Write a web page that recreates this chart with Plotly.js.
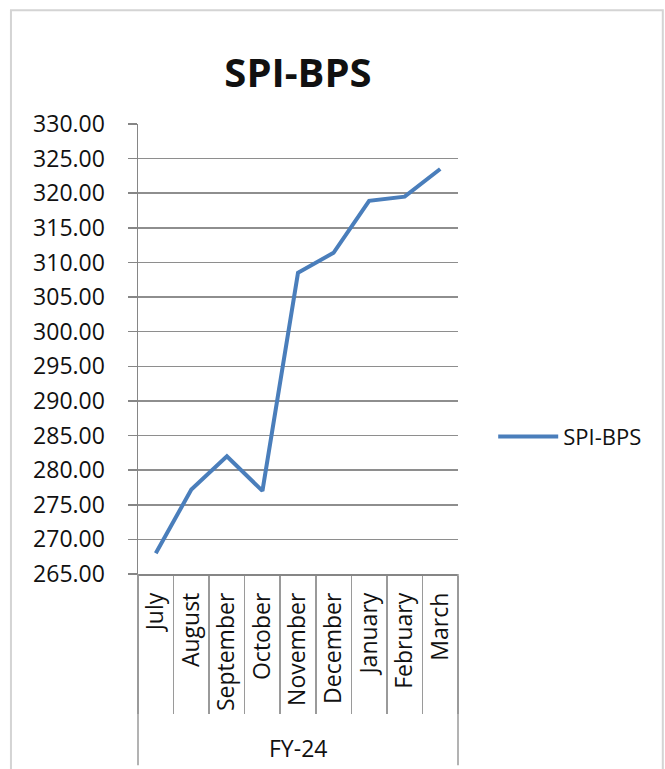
<!DOCTYPE html>
<html>
<head>
<meta charset="utf-8">
<script src="https://cdn.plot.ly/plotly-3.0.1.min.js"></script>
<style>html,body{margin:0;padding:0;background:#fff;}#chart{width:665px;height:769px;}</style>
</head>
<body>
<div id="chart"></div>
<script>
const months = ["July","August","September","October","November","December","January","February","March"];
const spiBps = [268.0, 277.2, 282.0, 277.0, 308.5, 311.4, 318.9, 319.5, 323.5];
const seriesName = "SPI-BPS";
const groupLabel = "FY-24";
const chartTitle = "SPI-BPS";

const font = "'Open Sans', 'Liberation Sans', sans-serif";
const data = [{
  type: "scatter", mode: "lines", x: months, y: spiBps, name: seriesName,
  line: {color: "#4a7ebb", width: 4}
}];
const layout = {
  width: 665, height: 769,
  margin: {l: 138, r: 207, t: 124, b: 195},
  paper_bgcolor: "#fff", plot_bgcolor: "#fff",
  title: {text: "<b>" + chartTitle + "</b>", x: 0.5, xref: "paper", xanchor: "center", y: 0.905, yanchor: "middle",
          font: {family: font, size: 40, color: "#111"}},
  showlegend: true,
  legend: {x: 1.11, xanchor: "left", y: 0.305, yanchor: "middle", itemwidth: 60,
           font: {family: font, size: 22, color: "#111"}, bgcolor: "rgba(0,0,0,0)"},
  xaxis: {
    type: "category", range: [-0.5, months.length - 0.5], showgrid: false, showline: true, linecolor: "#868686", linewidth: 1.5,
    ticks: "outside", tickson: "boundaries", ticklen: 138, tickcolor: "#9a9a9a", tickwidth: 1.5,
    tickangle: -90, ticklabelstandoff: 8,
    tickfont: {family: font, size: 23, color: "#111"}, zeroline: false, fixedrange: true
  },
  yaxis: {
    range: [265, 330], dtick: 5, tick0: 265, tickformat: ".2f",
    showgrid: true, gridcolor: "#8e8e8e", gridwidth: 1.5,
    showline: true, linecolor: "#868686", linewidth: 1.5,
    ticks: "outside", ticklen: 9, tickcolor: "#868686", tickwidth: 1.5, ticklabelstandoff: 18,
    tickfont: {family: font, size: 23, color: "#111"}, zeroline: false, fixedrange: true
  },
  annotations: [{text: groupLabel, xref: "paper", yref: "paper", x: 0.5, y: -0.387, xanchor: "center", yanchor: "middle",
                 showarrow: false, font: {family: font, size: 23, color: "#111"}}],
  shapes: [
    {type: "line", xref: "x domain", yref: "paper", x0: 0, x1: 0, y0: 0, y1: -0.425, line: {color: "#9a9a9a", width: 1.5}},
    {type: "line", xref: "x domain", yref: "paper", x0: 1, x1: 1, y0: 0, y1: -0.425, line: {color: "#9a9a9a", width: 1.5}},
    {type: "rect", xref: "paper", yref: "paper", x0: -0.397, x1: 1.64, y0: 1.253, y1: -0.46, line: {color: "#d4d4d4", width: 2}, layer: "below"}
  ]
};
Plotly.newPlot("chart", data, layout, {displayModeBar: false, staticPlot: true});
</script>
</body>
</html>
